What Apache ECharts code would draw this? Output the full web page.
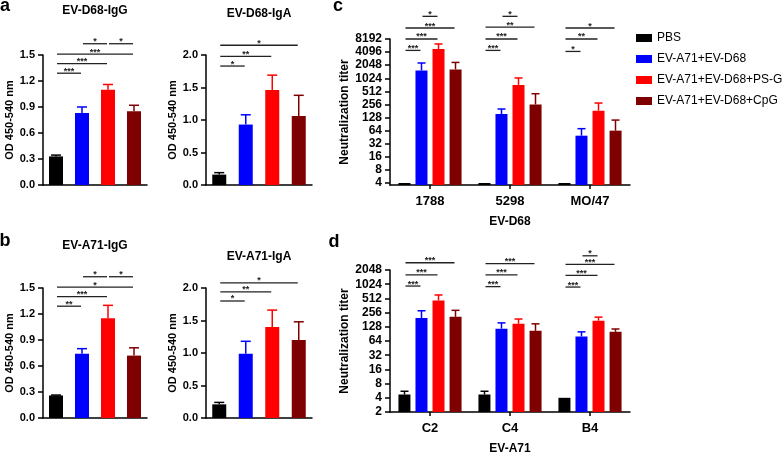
<!DOCTYPE html>
<html>
<head>
<meta charset="utf-8">
<script src="https://cdn.jsdelivr.net/npm/echarts@6/dist/echarts.min.js"></script>
<style>
html, body { margin: 0; padding: 0; background: #fff; }
#chart { width: 784px; height: 456px; }
</style>
</head>
<body>
<div id="chart"></div>
<script>
var FONT = 'Arial, "Liberation Sans", Helvetica, sans-serif';

var groups = ['PBS', 'EV-A71+EV-D68', 'EV-A71+EV-D68+PS-G', 'EV-A71+EV-D68+CpG'];
var groupColors = ['#000000', '#0000ff', '#ff0000', '#7f0000'];

// ELISA (a, b): mean OD and top of error bar, one value per group
var d68IgG = [0.33, 0.83, 1.10, 0.85];
var d68IgGErr = [0.345, 0.90, 1.16, 0.92];
var d68IgA = [0.16, 0.93, 1.46, 1.06];
var d68IgAErr = [0.19, 1.08, 1.69, 1.38];
var a71IgG = [0.26, 0.74, 1.15, 0.72];
var a71IgGErr = [0.265, 0.80, 1.30, 0.81];
var a71IgA = [0.21, 0.99, 1.40, 1.20];
var a71IgAErr = [0.24, 1.18, 1.66, 1.48];

// significance: [from bar, to bar, height, number of stars]
var d68IgGSig = [[0, 1, 1.29, 3], [0, 2, 1.40, 3], [0, 3, 1.51, 3], [1, 2, 1.63, 1], [2, 3, 1.63, 1]];
var d68IgASig = [[0, 1, 1.83, 1], [0, 2, 1.98, 2], [0, 3, 2.15, 1]];
var a71IgGSig = [[0, 1, 1.29, 2], [0, 2, 1.40, 3], [0, 3, 1.51, 1], [1, 2, 1.63, 1], [2, 3, 1.63, 1]];
var a71IgASig = [[0, 1, 1.80, 1], [0, 2, 1.94, 2], [0, 3, 2.08, 1]];

// neutralization titers (c, d): one row per group, one value per strain
var d68Strains = ['1788', '5298', 'MO/47'];
var d68Titer = [[4, 4, 4], [1550, 154, 49], [4840, 720, 184], [1640, 256, 64]];
var d68TiterErr = [[4, 4, 4], [2300, 201, 71], [6300, 1040, 276], [2370, 452, 112]];
var a71Strains = ['C2', 'C4', 'B4'];
var a71Titer = [[4.7, 4.7, 4], [196, 117, 80], [462, 148, 172], [208, 105, 100]];
var a71TiterErr = [[5.5, 5.5, 4], [280, 155, 100], [605, 187, 205], [286, 148, 115]];

// significance: [strain, from bar, to bar, height (titer), stars]
var d68Sig = [
  [0, 0, 1, 4480, 3], [0, 0, 2, 8192, 3], [0, 0, 3, 14650, 3], [0, 1, 2, 27200, 1],
  [1, 0, 1, 4480, 3], [1, 0, 2, 8192, 3], [1, 0, 3, 15300, 2], [1, 1, 2, 27200, 1],
  [2, 0, 1, 4240, 1], [2, 0, 2, 8192, 2], [2, 0, 3, 14650, 1]
];
var a71Sig = [
  [0, 0, 1, 936, 3], [0, 0, 2, 1618, 3], [0, 0, 3, 2916, 3],
  [1, 0, 1, 910, 3], [1, 0, 2, 1618, 3], [1, 0, 3, 2798, 3],
  [2, 0, 1, 891, 3], [2, 0, 2, 1574, 3], [2, 0, 3, 2702, 3], [2, 1, 2, 4096, 1]
];

var d68Ticks = [4, 8, 16, 32, 64, 128, 256, 512, 1024, 2048, 4096, 8192];
var a71Ticks = [2, 4, 8, 16, 32, 64, 128, 256, 512, 1024, 2048];

var SLOT = 17; // distance between neighbouring bars in c, d

function barX(api, cat, slot, step, level) {
  var p = api.coord([cat, level]);
  return [p[0] + (step ? (slot - 1.5) * step : 0), p[1]];
}

function renderError(step, capHalf) {
  return function (params, api) {
    var cat = api.value(0), slot = api.value(1);
    var v = api.value(2), e = api.value(3);
    if (!(e > v)) return null;
    var b = barX(api, cat, slot, step, v);
    var t = barX(api, cat, slot, step, e);
    var c = groupColors[slot];
    return {
      type: 'group',
      children: [
        { type: 'line', shape: { x1: b[0], y1: b[1], x2: t[0], y2: t[1] }, style: { stroke: c, lineWidth: 1.5 } },
        { type: 'line', shape: { x1: t[0] - capHalf, y1: t[1], x2: t[0] + capHalf, y2: t[1] }, style: { stroke: c, lineWidth: 1.5 } }
      ]
    };
  };
}

function renderSig(step) {
  return function (params, api) {
    var cat = api.value(0), from = api.value(1), to = api.value(2), lv = api.value(3), n = api.value(4);
    var p1 = step ? barX(api, cat, from, step, lv) : barX(api, from, 0, 0, lv);
    var p2 = step ? barX(api, cat, to, step, lv) : barX(api, to, 0, 0, lv);
    var x1 = p1[0] + 1, x2 = p2[0] - 1, y = p1[1];
    var stars = '';
    for (var i = 0; i < n; i++) stars += '*';
    return {
      type: 'group',
      children: [
        { type: 'line', shape: { x1: x1, y1: y, x2: x2, y2: y }, style: { stroke: '#222', lineWidth: 1.3 } },
        { type: 'text', style: { text: stars, x: (x1 + x2) / 2, y: y + 2.5, align: 'center', verticalAlign: 'bottom', font: 'bold 9px ' + FONT, fill: '#222' } }
      ]
    };
  };
}

var grids = [
  { left: 43, top: 55, width: 104, height: 130 },
  { left: 206, top: 55, width: 106, height: 130 },
  { left: 43, top: 288, width: 104, height: 130 },
  { left: 206, top: 288, width: 106, height: 130 },
  { left: 390, top: 39, width: 240, height: 146 },
  { left: 390, top: 270, width: 240, height: 146 }
];

var axisLine = { show: true, lineStyle: { color: '#000', width: 1.5 } };
var xAxes = [], yAxes = [];
var elisaMax = [1.5, 2.0, 1.5, 2.0];
var elisaStep = [0.3, 0.5, 0.3, 0.5];
for (var g = 0; g < 4; g++) {
  xAxes.push({
    type: 'category', gridIndex: g, data: groups,
    axisLine: axisLine, axisTick: { show: false }, axisLabel: { show: false }
  });
  yAxes.push({
    type: 'value', gridIndex: g, min: 0, max: elisaMax[g], interval: elisaStep[g],
    axisLine: axisLine,
    axisTick: { show: true, length: 5, lineStyle: { color: '#000', width: 1.5 } },
    axisLabel: { margin: 8, color: '#000', fontFamily: FONT, fontWeight: 'bold', fontSize: 11,
      formatter: function (v) { return v.toFixed(1); } },
    splitLine: { show: false },
    name: 'OD 450-540 nm', nameLocation: 'middle', nameGap: 21,
    nameTextStyle: { color: '#000', fontFamily: FONT, fontWeight: 'bold', fontSize: 11 }
  });
}
[[d68Strains, 'EV-D68', 3.6, 8192, d68Ticks], [a71Strains, 'EV-A71', 2, 2048, a71Ticks]].forEach(function (cfg, k) {
  xAxes.push({
    type: 'category', gridIndex: 4 + k, data: cfg[0],
    axisLine: axisLine,
    axisTick: { show: true, alignWithLabel: true, length: 4, lineStyle: { color: '#000', width: 1.5 } },
    axisLabel: { margin: 10, color: '#000', fontFamily: FONT, fontWeight: 'bold', fontSize: 13 },
    name: cfg[1], nameLocation: 'middle', nameGap: 31,
    nameTextStyle: { color: '#000', fontFamily: FONT, fontWeight: 'bold', fontSize: 12 }
  });
  yAxes.push({
    type: 'log', logBase: 2, gridIndex: 4 + k, min: cfg[2], max: cfg[3],
    axisLine: axisLine,
    axisTick: { show: true, length: 5, customValues: cfg[4], lineStyle: { color: '#000', width: 1.5 } },
    axisLabel: { margin: 8, color: '#000', fontFamily: FONT, fontWeight: 'bold', fontSize: 12,
      customValues: cfg[4], formatter: function (v) { return String(Math.round(v)); } },
    splitLine: { show: false }, minorTick: { show: false },
    name: 'Neutralization titer', nameLocation: 'middle', nameGap: 39,
    nameTextStyle: { color: '#000', fontFamily: FONT, fontWeight: 'bold', fontSize: 12 }
  });
});

var series = [];
function addElisa(idx, means, errs, sig) {
  series.push({
    type: 'bar', xAxisIndex: idx, yAxisIndex: idx, barWidth: 14, silent: true,
    data: means.map(function (v, i) { return { value: v, itemStyle: { color: groupColors[i] } }; })
  });
  series.push({
    type: 'custom', xAxisIndex: idx, yAxisIndex: idx, silent: true, z: 3,
    encode: { x: 0, y: 2 }, renderItem: renderError(0, 5),
    data: means.map(function (v, i) { return [i, i, v, errs[i]]; })
  });
  series.push({
    type: 'custom', xAxisIndex: idx, yAxisIndex: idx, silent: true, clip: false,
    encode: { x: 0, y: 3 }, renderItem: renderSig(0),
    data: sig.map(function (s) { return [0, s[0], s[1], s[2], s[3]]; })
  });
}
addElisa(0, d68IgG, d68IgGErr, d68IgGSig);
addElisa(1, d68IgA, d68IgAErr, d68IgASig);
addElisa(2, a71IgG, a71IgGErr, a71IgGSig);
addElisa(3, a71IgA, a71IgAErr, a71IgASig);

function addTiter(idx, titer, errs, sig) {
  var errData = [];
  groups.forEach(function (name, gi) {
    series.push({
      type: 'bar', name: name, xAxisIndex: idx, yAxisIndex: idx, barWidth: 12, barGap: '42%',
      silent: true, itemStyle: { color: groupColors[gi] }, data: titer[gi]
    });
    titer[gi].forEach(function (v, ci) { errData.push([ci, gi, v, errs[gi][ci]]); });
  });
  series.push({
    type: 'custom', xAxisIndex: idx, yAxisIndex: idx, silent: true, z: 3,
    encode: { x: 0, y: 2 }, renderItem: renderError(SLOT, 4), data: errData
  });
  series.push({
    type: 'custom', xAxisIndex: idx, yAxisIndex: idx, silent: true, clip: false,
    encode: { x: 0, y: 3 }, renderItem: renderSig(SLOT), data: sig
  });
}
addTiter(4, d68Titer, d68TiterErr, d68Sig);
addTiter(5, a71Titer, a71TiterErr, a71Sig);

function label(text, x, y, size) {
  return { type: 'text', x: x, y: y, silent: true,
    style: { text: text, align: 'center', verticalAlign: 'middle', font: 'bold ' + size + 'px ' + FONT, fill: '#000' } };
}

var chart = echarts.init(document.getElementById('chart'));
chart.setOption({
  animation: false,
  backgroundColor: '#fff',
  grid: grids,
  xAxis: xAxes,
  yAxis: yAxes,
  legend: {
    data: groups, orient: 'vertical', left: 631, top: 26,
    itemWidth: 16, itemHeight: 8, itemGap: 7, icon: 'rect', selectedMode: false,
    textStyle: { color: '#000', fontFamily: FONT, fontSize: 12, lineHeight: 14 }
  },
  graphic: [
    label('a', 5, 6, 18), label('b', 5, 241, 18), label('c', 338, 6, 18), label('d', 334, 242, 18),
    label('EV-D68-IgG', 95, 11, 12), label('EV-D68-IgA', 259, 14, 12),
    label('EV-A71-IgG', 95, 246, 12), label('EV-A71-IgA', 259, 257, 12)
  ],
  series: series
});
</script>
</body>
</html>
